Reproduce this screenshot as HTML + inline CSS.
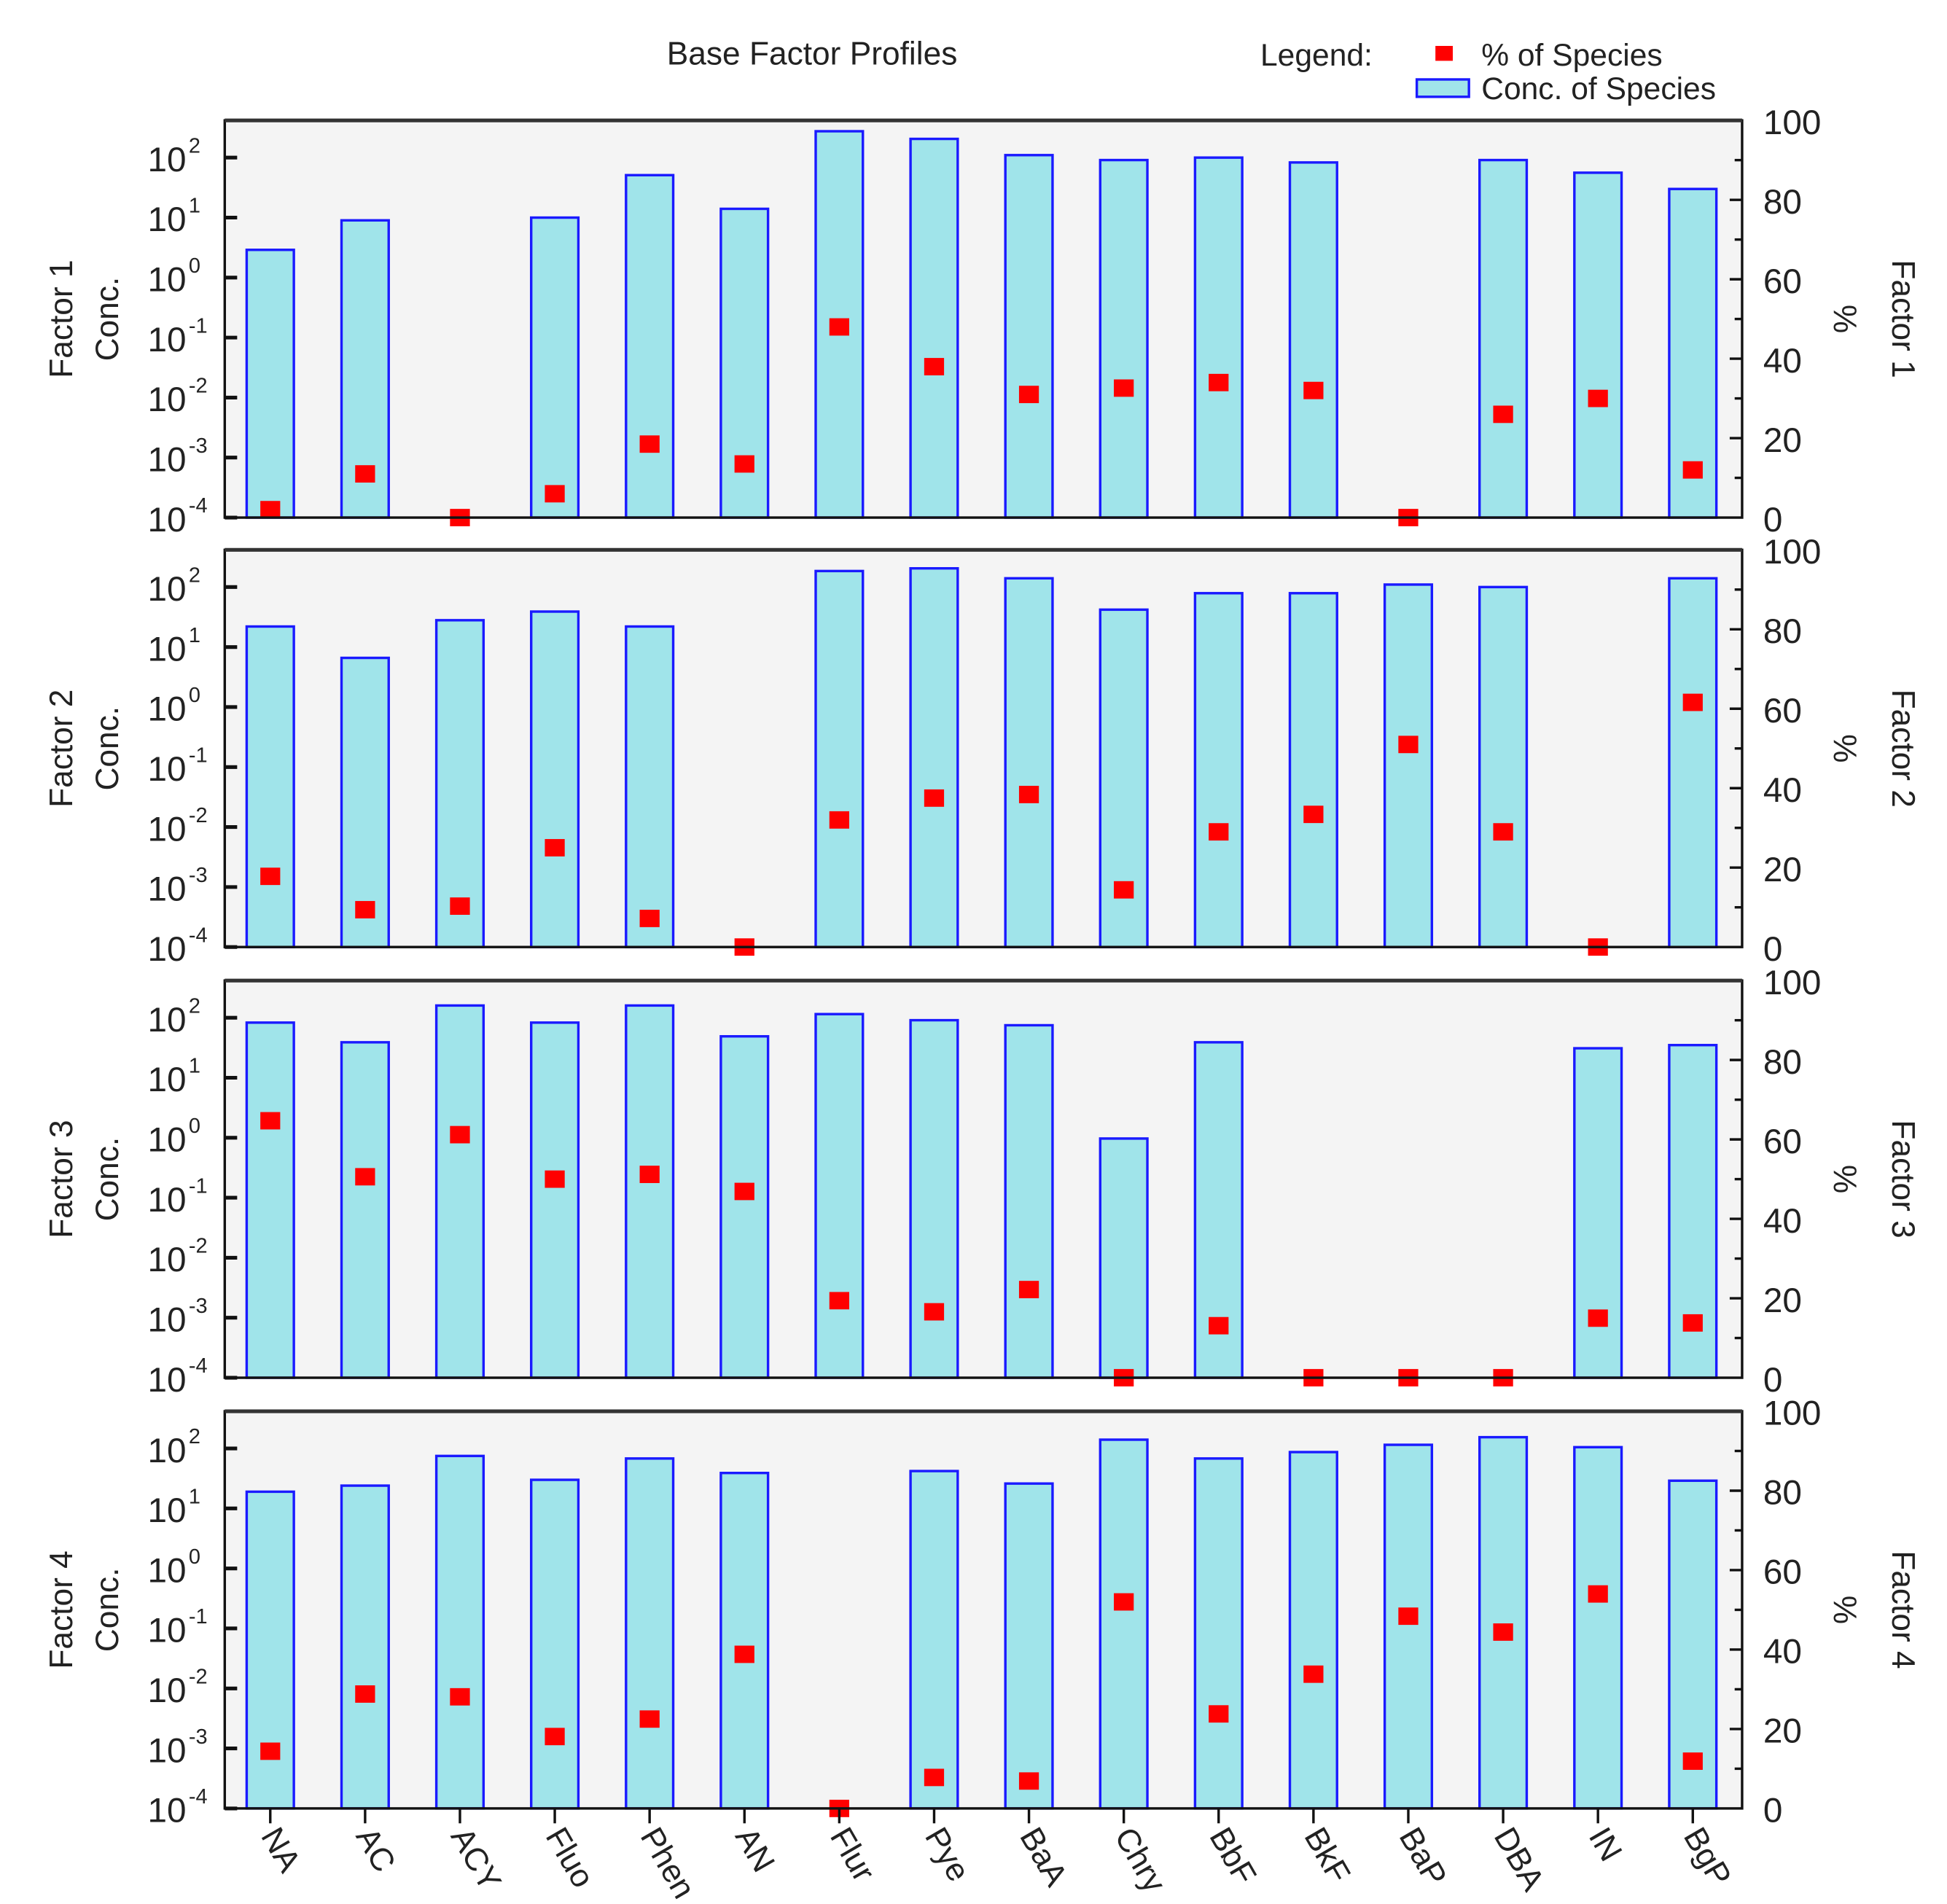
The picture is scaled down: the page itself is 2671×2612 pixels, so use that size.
<!DOCTYPE html>
<html><head><meta charset="utf-8"><style>
html,body{margin:0;padding:0;background:#fff}
svg{display:block}
text{font-family:"Liberation Sans",sans-serif;fill:#222}
</style></head><body>
<svg id="chart" width="2671" height="2612" viewBox="0 0 1568 1534" preserveAspectRatio="none" xmlns="http://www.w3.org/2000/svg">
<text x="654" y="52" font-size="26" text-anchor="middle">Base Factor Profiles</text>
<g>
<text x="1015" y="53" font-size="25">Legend:</text>
<rect x="1156" y="37" width="14" height="12" fill="#f00"/>
<text x="1193" y="53" font-size="25">% of Species</text>
<rect x="1141" y="64" width="42" height="14" fill="#a0e4ea" stroke="#1a1aff" stroke-width="2"/>
<text x="1193" y="80" font-size="25">Conc. of Species</text>
</g>
<g id="panels"></g>
</svg>
<script>
const categories=["NA","AC","ACY","Fluo","Phen","AN","Flur","Pye","BaA","Chry","BbF","BkF","BaP","DBA","IN","BgP"];
const conc1=[2.9,9,null,10,51,14,275,205,110,91,100,83,null,91,56,30];
const pct1=[2,11,0,6,18.5,13.5,48,38,31,32.6,34,32,0,26,30,12];
const conc2=[22,6.6,28,39,22,null,185,205,140,42,79,79,110,100,null,140];
const pct2=[17.8,9.4,10.3,25,7.2,0,32,37.5,38.4,14.4,29,33.4,51,29,0,61.6];
const conc3=[83,39,160,83,160,49,115,91,75,0.97,39,null,null,null,31,35];
const pct3=[64.7,50.6,61.2,50,51.2,46.9,19.4,16.6,22.2,0,13.1,0,0,0,15,13.8];
const conc4=[19,24,75,30,68,39,null,42,26,140,68,87,115,154,105,29];
const pct4=[14.4,28.8,28.1,18.1,22.5,38.8,0,7.8,6.9,52,23.8,33.8,48.4,44.4,54,11.9];
const logTicks=[-4,-3,-2,-1,0,1,2];
const pctTicks=[0,20,40,60,80,100];
const panelData=[[conc1,pct1],[conc2,pct2],[conc3,pct3],[conc4,pct4]];
const NS="http://www.w3.org/2000/svg";
const L=181,R=1403,H=320,tops=[97,443,790,1137];
const logMin=-4,logMax=2.62;
const step=(R-L)/16;
function xC(i){return L+(i+0.48)*step;}
function mk(tag,attrs,parent){const e=document.createElementNS(NS,tag);for(const k in attrs)e.setAttribute(k,attrs[k]);parent.appendChild(e);return e;}
const root=document.getElementById('panels');
panelData.forEach((pd,p)=>{
  const T=tops[p],B=T+H;
  const yLog=v=>B-(Math.log10(v)-logMin)/(logMax-logMin)*H;
  const yP=v=>B-v/100*H;
  const g=mk('g',{},root);
  
  
  const bg=mk('rect',{x:L,y:T,width:R-L,height:H,fill:'#f4f4f4'},g);
  
  
  pd[0].forEach((v,i)=>{
    if(v==null)return;
    const y=yLog(v);
    const b=mk('rect',{x:xC(i)-19,y:y,width:38,height:B-y,fill:'#a0e4ea',stroke:'#1a1aff','stroke-width':2},g);
    
    
  });
  pd[1].forEach((v,i)=>{
    const y=yP(v);
    const m=mk('rect',{x:xC(i)-8,y:y-7,width:16,height:14,fill:'#f00'},g);
    
    
  });
  mk('rect',{x:L,y:T,width:R-L,height:H,fill:'none',stroke:'#111','stroke-width':2},g);
  mk('line',{x1:L,y1:T,x2:R,y2:T,stroke:'#333','stroke-width':3},g);
  logTicks.forEach(t=>{
    const y=yLog(Math.pow(10,t));
    mk('line',{x1:L,y1:y,x2:L+10,y2:y,stroke:'#111','stroke-width':3},g);
    const tx=mk('text',{x:150,y:y+11,'font-size':28,'text-anchor':'end'},g);
    tx.textContent='10';
    
    
    const sp=mk('text',{x:152,y:y-4,'font-size':17},g);
    sp.textContent=String(t);
    
    
  });
  for(let v=10;v<100;v+=10){const y=yP(v);mk('line',{x1:R-(v%20==0?10:6),y1:y,x2:R,y2:y,stroke:'#111','stroke-width':2},g);}
  pctTicks.forEach(t=>{
    const tx=mk('text',{x:1420,y:yP(t)+11,'font-size':28},g);
    tx.textContent=String(t);
    
    
  });
  const mid=T+H/2;
  const t1=mk('text',{x:0,y:0,'font-size':26,'text-anchor':'middle',transform:`translate(58,${mid}) rotate(-90)`},g);
  t1.textContent='Factor '+(p+1);
  
  
  const t2=mk('text',{x:0,y:0,'font-size':26,'text-anchor':'middle',transform:`translate(95,${mid}) rotate(-90)`},g);
  t2.textContent='Conc.';
  
  
  const t3=mk('text',{x:0,y:0,'font-size':26,'text-anchor':'middle',transform:`translate(1524,${mid}) rotate(90)`},g);
  t3.textContent='Factor '+(p+1);
  
  
  const t4=mk('text',{x:0,y:0,'font-size':26,'text-anchor':'middle',transform:`translate(1477,${mid}) rotate(90)`},g);
  t4.textContent='%';
  
  
  if(p==3){
    categories.forEach((c,i)=>{
      mk('line',{x1:xC(i),y1:B,x2:xC(i),y2:B+12,stroke:'#111','stroke-width':2},g);
      const tx=mk('text',{x:0,y:0,'font-size':26,transform:`translate(${xC(i)-8},${B+22}) rotate(60)`},g);
      tx.textContent=c;
      
      
    });
  }
});
</script>
</body></html>
